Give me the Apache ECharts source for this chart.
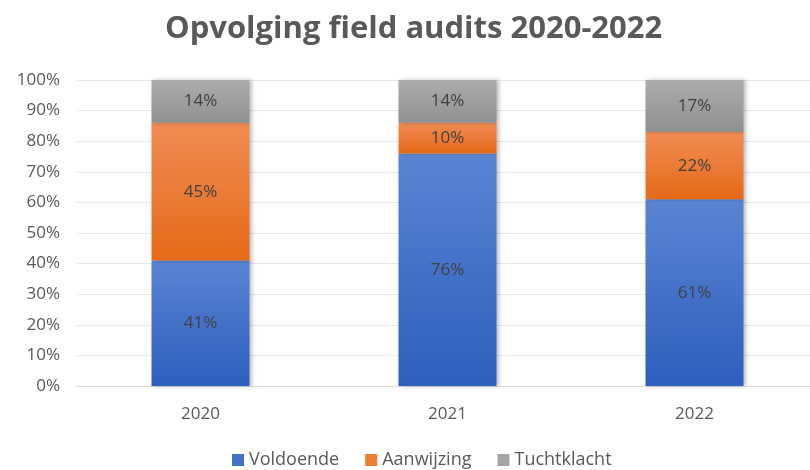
<!DOCTYPE html>
<html>
<head>
    <meta charset="utf-8">
    <title>Opvolging field audits</title>
    <script src="https://cdn.jsdelivr.net/npm/echarts@6.0.0/dist/echarts.min.js"></script>
    <style>
        body { margin: 0; background: #fff; }
        #chart { width: 810px; height: 470px; }
    </style>
</head>
<body>
    <div id="chart"></div>
    <script>
        // data
        var years = ['2020', '2021', '2022'];
        var voldoende = [41, 76, 61];
        var aanwijzing = [45, 10, 22];
        var tuchtklacht = [14, 14, 17];

        var font = 'Open Sans';

        function grad(top, bottom) {
            return new echarts.graphic.LinearGradient(0, 0, 0, 1, [
                { offset: 0, color: top },
                { offset: 1, color: bottom }
            ]);
        }

        function mkSeries(name, data, top, bottom) {
            return {
                name: name,
                type: 'bar',
                stack: 'total',
                data: data,
                barWidth: 98,
                itemStyle: {
                    color: grad(top, bottom),
                    shadowColor: 'rgba(0,0,0,0.25)',
                    shadowBlur: 4,
                    shadowOffsetX: 2
                },
                label: {
                    show: true,
                    position: 'inside',
                    formatter: '{c}%',
                    color: '#404040',
                    fontFamily: font,
                    fontSize: 17
                }
            };
        }

        var chart = echarts.init(document.getElementById('chart'));
        chart.setOption({
            animation: false,
            title: {
                text: 'Opvolging field audits 2020-2022',
                left: 160,
                top: 9,
                textStyle: {
                    color: '#595959',
                    fontFamily: font,
                    fontSize: 31,
                    fontWeight: 'bold'
                }
            },
            legend: {
                top: 446,
                left: 227,
                icon: 'rect',
                itemWidth: 12,
                itemHeight: 12,
                itemGap: 26,
                itemTextGap: 4,
                textStyle: { color: '#595959', fontFamily: font, fontSize: 18 },
                data: [
                    { name: 'Voldoende', itemStyle: { color: '#4472c4' } },
                    { name: 'Aanwijzing', itemStyle: { color: '#ed7d31' } },
                    { name: 'Tuchtklacht', itemStyle: { color: '#a5a5a5' } }
                ]
            },
            grid: { left: 77, right: -8, top: 80, bottom: 84, outerBoundsMode: 'none' },
            xAxis: {
                type: 'category',
                data: years,
                axisLine: { lineStyle: { color: '#d9d9d9' } },
                axisTick: { show: false },
                axisLabel: { color: '#595959', fontFamily: font, fontSize: 17, margin: 20 }
            },
            yAxis: {
                type: 'value',
                min: 0,
                max: 100,
                interval: 10,
                axisLine: { show: false },
                axisTick: { show: false },
                splitLine: { lineStyle: { color: '#e6e6e6' } },
                axisLabel: { formatter: '{value}%', color: '#595959', fontFamily: font, fontSize: 17, margin: 17 }
            },
            series: [
                mkSeries('Voldoende', voldoende, '#5b84d2', '#2e5fbd'),
                mkSeries('Aanwijzing', aanwijzing, '#f08c55', '#e56a18'),
                mkSeries('Tuchtklacht', tuchtklacht, '#adadad', '#8f8f8f')
            ]
        });
    </script>
</body>
</html>
